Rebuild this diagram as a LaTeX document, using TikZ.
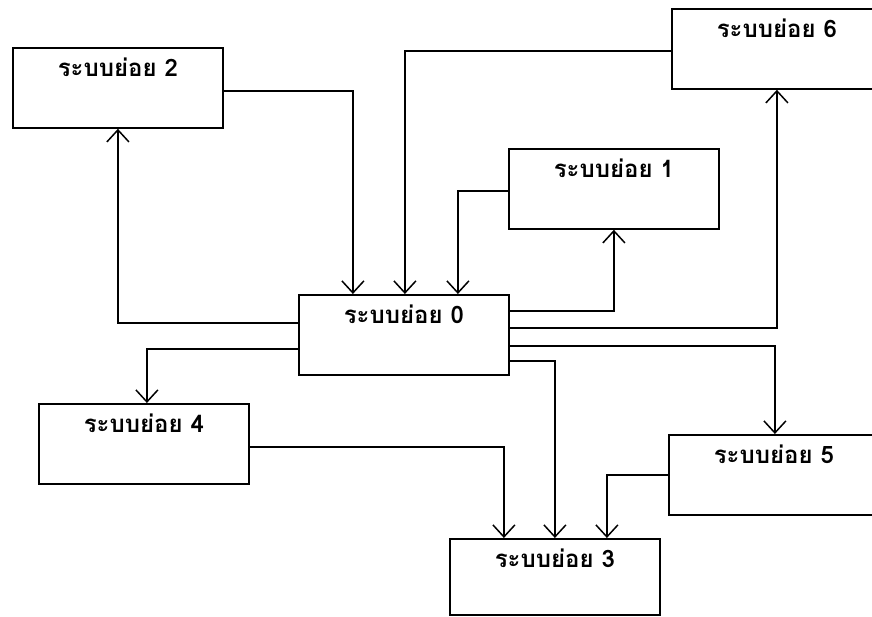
\documentclass[tikz,border=0pt]{standalone}
\usepackage{fontspec}
\newfontfamily\thaifont[Script=Thai]{Loma}
\usetikzlibrary{arrows.meta}

\begin{document}
\begin{tikzpicture}[x=1pt,y=-1pt,
    subsys/.style={draw,line width=1.8pt,anchor=north west,minimum width=210pt,minimum height=80pt,
      inner ysep=7pt,text height=22pt,text depth=44pt,font=\thaifont\bfseries\fontsize{24}{26}\selectfont},
    link/.style={line width=1.5pt,-{Straight Barb[length=12pt,width=22pt,line width=1.5pt]}}]
  \useasboundingbox[fill=white] (0,0) rectangle (872,617);

  % the sub-systems
  \node[subsys] (s0) at (298,294) {ระบบย่อย 0};
  \node[subsys] (s1) at (508,148) {ระบบย่อย 1};
  \node[subsys] (s2) at (12,47) {ระบบย่อย 2};
  \node[subsys,minimum height=76pt,text depth=40pt] (s3) at (449,538) {ระบบย่อย 3};
  \node[subsys] (s4) at (38,403) {ระบบย่อย 4};
  \node[subsys] (s5) at (668,434) {ระบบย่อย 5};
  \node[subsys] (s6) at (671,8) {ระบบย่อย 6};

  % into 0
  \draw[link] ([yshift=-3]s2.east) -| ([xshift=-51]s0.north);
  \draw[link] ([yshift=-2]s6.west) -| ([xshift=1]s0.north);
  \draw[link] ([yshift=-2]s1.west) -| ([xshift=54]s0.north);

  % out of 0
  \draw[link] ([yshift=12]s0.west) -| (s2.south);
  \draw[link] ([yshift=-14]s0.west) -| ([xshift=3]s4.north);
  \draw[link] ([yshift=24]s0.east) -| (s1.south);
  \draw[link] ([yshift=7]s0.east) -| (s6.south);
  \draw[link] ([yshift=-11]s0.east) -| ([xshift=1]s5.north);
  \draw[link] ([yshift=-26]s0.east) -| (s3.north);

  % into 3
  \draw[link] ([yshift=-3]s4.east) -| ([xshift=-51]s3.north);
  \draw[link] (s5.west) -| ([xshift=52]s3.north);
\end{tikzpicture}
\end{document}
